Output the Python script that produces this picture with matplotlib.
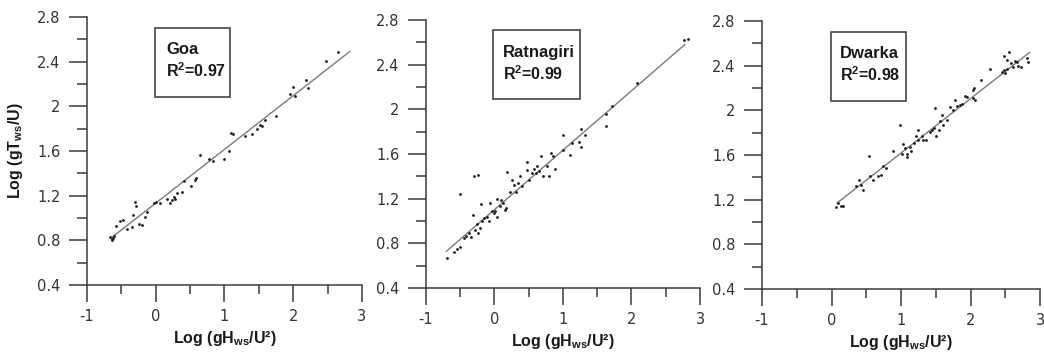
import matplotlib
matplotlib.use("Agg")
import matplotlib.pyplot as plt
from matplotlib.patches import Rectangle
import numpy as np

plt.rcParams['font.family'] = ['Liberation Sans', 'DejaVu Sans']
plt.rcParams['mathtext.fontset'] = 'custom'
plt.rcParams['mathtext.rm'] = 'Liberation Sans'
plt.rcParams['mathtext.bf'] = 'Liberation Sans:bold'
plt.rcParams['mathtext.it'] = 'Liberation Sans:italic'

# ---------------- data ----------------
sites = ["Goa", "Ratnagiri", "Dwarka"]
r2_labels = [r"R$^\mathbf{2}$=0.97", r"R$^\mathbf{2}$=0.99", r"R$^\mathbf{2}$=0.98"]

goa_x = [-0.66, -0.64, -0.62, -0.60, -0.63, -0.58, -0.52, -0.47, -0.33, -0.42, -0.35,
         -0.30, -0.28, -0.25, -0.20, -0.155, -0.13, -0.03, 0.01, 0.06, 0.16, 0.21, 0.23,
         0.26, 0.28, 0.31, 0.38, 0.41, 0.52, 0.57, 0.59, 0.64, 0.78, 0.84, 0.99, 1.06,
         1.10, 1.13, 1.30, 1.40, 1.47, 1.52, 1.54, 1.59, 1.75, 1.95, 2.00, 2.03, 2.19,
         2.21, 2.47, 2.65]
goa_y = [0.83, 0.81, 0.82, 0.84, 0.80, 0.93, 0.97, 0.98, 1.03, 0.90, 0.92,
         1.14, 1.11, 0.95, 0.94, 1.01, 1.05, 1.13, 1.14, 1.13, 1.17, 1.13, 1.16,
         1.19, 1.17, 1.22, 1.23, 1.33, 1.29, 1.34, 1.36, 1.56, 1.53, 1.51, 1.53, 1.60,
         1.76, 1.75, 1.73, 1.75, 1.80, 1.83, 1.82, 1.88, 1.91, 2.11, 2.17, 2.09, 2.24,
         2.16, 2.41, 2.49]

rat_x = [-0.70, -0.59, -0.54, -0.50, -0.50, -0.45, -0.41, -0.37, -0.34, -0.31, -0.30,
         -0.24, -0.29, -0.26, -0.24, -0.21, -0.19, -0.18, -0.15, -0.11, -0.08, -0.06,
         -0.03, -0.01, 0.01, 0.04, 0.04, 0.08, 0.10, 0.13, 0.15, 0.17, 0.19, 0.22, 0.26,
         0.28, 0.32, 0.35, 0.38, 0.40, 0.47, 0.48, 0.50, 0.55, 0.57, 0.60, 0.62, 0.65,
         0.68, 0.71, 0.76, 0.80, 0.83, 0.86, 0.89, 1.00, 1.00, 1.10, 1.13, 1.23, 1.26,
         1.26, 1.32, 1.63, 1.63, 1.71, 2.08, 2.76, 2.83]
rat_y = [0.67, 0.72, 0.75, 0.77, 1.24, 0.85, 0.87, 0.89, 0.86, 1.05, 1.40,
         1.41, 0.92, 0.97, 0.89, 0.94, 1.15, 1.00, 1.03, 1.04, 1.00, 1.16,
         1.09, 1.07, 1.09, 1.04, 1.20, 1.13, 1.19, 1.16, 1.10, 1.12, 1.44, 1.26, 1.37,
         1.32, 1.26, 1.34, 1.40, 1.31, 1.53, 1.46, 1.37, 1.43, 1.47, 1.43, 1.49, 1.45,
         1.58, 1.40, 1.49, 1.40, 1.61, 1.58, 1.47, 1.77, 1.64, 1.59, 1.70, 1.71, 1.66,
         1.82, 1.77, 1.96, 1.85, 2.03, 2.24, 2.62, 2.63]

dwa_x = [0.06, 0.09, 0.14, 0.17, 0.35, 0.39, 0.43, 0.46, 0.54, 0.55, 0.59, 0.67, 0.71,
         0.74, 0.79, 0.89, 0.99, 1.02, 1.03, 1.06, 1.08, 1.08, 1.13, 1.15, 1.19, 1.22,
         1.25, 1.25, 1.30, 1.32, 1.36, 1.41, 1.44, 1.47, 1.49, 1.50, 1.54, 1.56, 1.59,
         1.61, 1.66, 1.71, 1.75, 1.78, 1.80, 1.85, 1.88, 1.92, 1.95, 2.03, 2.04, 2.07,
         2.05, 2.15, 2.28, 2.45, 2.48, 2.50, 2.52, 2.48, 2.55, 2.52, 2.58, 2.61, 2.64,
         2.67, 2.69, 2.73, 2.81, 2.83]
dwa_y = [1.13, 1.17, 1.14, 1.14, 1.32, 1.38, 1.33, 1.29, 1.59, 1.41, 1.38, 1.41, 1.42,
         1.50, 1.48, 1.64, 1.87, 1.61, 1.70, 1.66, 1.58, 1.61, 1.67, 1.64, 1.71, 1.77,
         1.82, 1.73, 1.77, 1.73, 1.73, 1.81, 1.82, 1.84, 2.02, 1.77, 1.82, 1.90, 1.96,
         1.87, 1.91, 2.03, 2.00, 2.09, 2.04, 2.05, 2.06, 2.13, 2.12, 2.18, 2.11, 2.09,
         2.20, 2.27, 2.37, 2.34, 2.36, 2.33, 2.37, 2.49, 2.52, 2.45, 2.42, 2.39, 2.44,
         2.43, 2.40, 2.39, 2.47, 2.43]

# fitted lines: (slope, intercept, x_start, x_end)
fit_slope = [0.481, 0.532, 0.487]
fit_intercept = [1.133, 1.102, 1.131]
fit_xrange = [(-0.65, 2.82), (-0.70, 2.78), (0.08, 2.85)]

xs_all = [goa_x, rat_x, dwa_x]
ys_all = [goa_y, rat_y, dwa_y]

x_ticks = [-1, 0, 1, 2, 3]
x_ticklabels = ["-1", "0", "1", "2", "3"]
y_ticks = [0.4, 0.8, 1.2, 1.6, 2.0, 2.4, 2.8]
y_ticklabels = ["0.4", "0.8", "1.2", "1.6", "2", "2.4", "2.8"]
x_minor = [-0.5, 0.5, 1.5, 2.5]
y_minor = [0.6, 1.0, 1.4, 1.8, 2.2, 2.6]

xlabel = r"Log (gH$_\mathbf{ws}$/U²)"
ylabel = r"Log (gT$_\mathbf{ws}$/U)"

# ---------------- layout ----------------
fig = plt.figure(figsize=(10.44, 3.57), dpi=100)
axes_rects = [
    [0.0833, 0.2017, 0.2634, 0.7507],
    [0.4080, 0.1933, 0.2625, 0.7507],
    [0.7299, 0.1905, 0.2663, 0.7507],
]
box_rects = [
    (0.247, 0.701, 0.273, 0.258),
    (0.245, 0.705, 0.317, 0.258),
    (0.248, 0.701, 0.270, 0.258),
]
text_x = [0.287, 0.281, 0.281]
spine_col = "#3a3a3a"
tick_col = "#333333"
tick_font = {"family": "DejaVu Sans", "size": 10.5}

for i in range(3):
    ax = fig.add_axes(axes_rects[i])
    ax.set_xlim(-1, 3)
    ax.set_ylim(0.4, 2.8)
    for s in ["top", "right"]:
        ax.spines[s].set_visible(False)
    for s in ["left", "bottom"]:
        ax.spines[s].set_color(spine_col)
        ax.spines[s].set_linewidth(1.1)
    ax.set_xticks(x_ticks)
    ax.set_xticklabels(x_ticklabels, fontdict=tick_font)
    ax.set_yticks(y_ticks)
    ax.set_yticklabels(y_ticklabels, fontdict=tick_font)
    ax.set_xticks(x_minor, minor=True)
    ax.set_yticks(y_minor, minor=True)
    ax.tick_params(axis="x", which="major", direction="out", length=12, width=1.1,
                   color=spine_col, labelcolor=tick_col, pad=5)
    ax.tick_params(axis="x", which="minor", direction="out", length=6.5, width=1.1,
                   color=spine_col)
    ax.tick_params(axis="y", which="major", direction="out", length=13, width=1.1,
                   color=spine_col, labelcolor=tick_col, pad=6)
    ax.tick_params(axis="y", which="minor", direction="out", length=7.5, width=1.1,
                   color=spine_col)

    x = np.array(xs_all[i])
    y = np.array(ys_all[i])
    ax.scatter(x, y, s=4, color="#1a1a1a", linewidths=0, zorder=3, clip_on=False)

    lx = np.array(fit_xrange[i])
    ax.plot(lx, fit_slope[i] * lx + fit_intercept[i], color="#7a7a7a", lw=1.0, zorder=2)

    bx, by, bw, bh = box_rects[i]
    ax.add_patch(Rectangle((bx, by), bw, bh, transform=ax.transAxes, fill=False,
                           edgecolor="#444444", lw=1.2, clip_on=False))
    ax.text(text_x[i], 0.877, sites[i], transform=ax.transAxes, fontsize=12,
            fontweight="bold", color="#1a1a1a", ha="left", va="center")
    ax.text(text_x[i], 0.800, r2_labels[i], transform=ax.transAxes, fontsize=11.5,
            fontweight="bold", color="#1a1a1a", ha="left", va="center")

    ax.set_xlabel(xlabel, fontsize=11.5, fontweight="bold", color="#1a1a1a")
    ax.xaxis.set_label_coords(0.5, -0.165)
    if i == 0:
        ax.set_ylabel(ylabel, fontsize=11.5, fontweight="bold", color="#1a1a1a")
        ax.yaxis.set_label_coords(-0.225, 0.5)

fig.savefig("out.png", dpi=100)
